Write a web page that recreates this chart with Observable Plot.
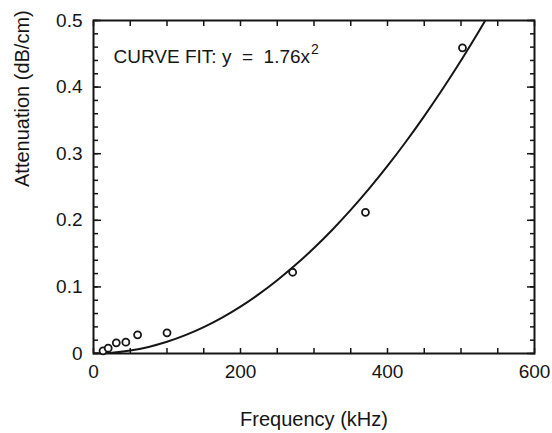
<!DOCTYPE html>
<html><head><meta charset="utf-8">
<script src="https://cdn.jsdelivr.net/npm/d3@7"></script>
<script src="https://cdn.jsdelivr.net/npm/@observablehq/plot@0.6"></script>
<style>
body{margin:0;background:#fff;}
#chart svg{display:block;}
</style></head><body><div id="chart"></div>
<script>
// Measured points
const freqKHz = [13, 20, 31, 44, 60, 100, 271, 370, 502];
const attenDB = [0.004, 0.008, 0.016, 0.017, 0.028, 0.031, 0.122, 0.212, 0.459];

// Curve fit y = 1.76x^2 (x in MHz)
const fitFreq = [0, 25, 50, 75, 100, 125, 150, 175, 200, 225, 250, 275, 300, 325, 350, 375, 400, 425, 450, 475, 500, 525, 533];
const fitAtten = [0, 0.0011, 0.0044, 0.0099, 0.0176, 0.0275, 0.0396, 0.0539, 0.0704, 0.0891, 0.11, 0.1331, 0.1584, 0.1859, 0.2156, 0.2475, 0.2816, 0.3179, 0.3564, 0.3971, 0.44, 0.4851, 0.5];

const xTickValues = [0, 200, 400, 600];
const xTickLabels = ["0", "200", "400", "600"];
const xMinorTicks = [0, 50, 100, 150, 200, 250, 300, 350, 400, 450, 500, 550, 600];
const yTickValues = [0, 0.1, 0.2, 0.3, 0.4, 0.5];
const yTickLabels = ["0", "0.1", "0.2", "0.3", "0.4", "0.5"];
const yMinorTicks = [0, 0.02, 0.04, 0.06, 0.08, 0.1, 0.12, 0.14, 0.16, 0.18, 0.2, 0.22, 0.24, 0.26, 0.28, 0.3, 0.32, 0.34, 0.36, 0.38, 0.4, 0.42, 0.44, 0.46, 0.48, 0.5];

const xLabel = "Frequency (kHz)";
const yLabel = "Attenuation (dB/cm)";
const fitLabel = "CURVE FIT: y  =  1.76x";
const fitSup = "2";

const points = freqKHz.map((f, i) => ({f, a: attenDB[i]}));
const fit = fitFreq.map((f, i) => ({f, a: fitAtten[i]}));

const ink = "#151515";
const font = "'Liberation Sans', Arial, Helvetica, sans-serif";
const fitSize = 19;

// measure the fit label to place the superscript after it
const ctx = document.createElement("canvas").getContext("2d");
ctx.font = `${fitSize}px ${font}`;
const fitWidth = ctx.measureText(fitLabel).width;

const minor = 5, major = 8;
const chart = Plot.plot({
  width: 552, height: 433,
  marginLeft: 93, marginRight: 18, marginTop: 20, marginBottom: 80,
  style: {fontFamily: font, fontSize: "19px", color: ink, background: "#fff", overflow: "visible"},
  x: {domain: [0, 600]},
  y: {domain: [0, 0.5]},
  marks: [
    // inward ticks on all four sides (shifted inside by their length)
    Plot.axisX({ticks: xMinorTicks, tickSize: minor, dy: -minor, tickFormat: () => "", label: null, stroke: ink, strokeWidth: 1.5}),
    Plot.axisX({anchor: "top", ticks: xMinorTicks, tickSize: minor, dy: minor, tickFormat: () => "", label: null, stroke: ink, strokeWidth: 1.5}),
    Plot.axisY({ticks: yMinorTicks, tickSize: minor, dx: minor, tickFormat: () => "", label: null, stroke: ink, strokeWidth: 1.5}),
    Plot.axisY({anchor: "right", ticks: yMinorTicks, tickSize: minor, dx: -minor, tickFormat: () => "", label: null, stroke: ink, strokeWidth: 1.5}),
    Plot.axisY({ticks: yTickValues, tickSize: major, dx: major, tickFormat: () => "", label: null, stroke: ink, strokeWidth: 1.5}),
    Plot.axisY({anchor: "right", ticks: yTickValues, tickSize: major, dx: -major, tickFormat: () => "", label: null, stroke: ink, strokeWidth: 1.5}),
    // tick labels
    Plot.axisX({ticks: xTickValues, tickSize: 0, tickPadding: 11, tickFormat: (d) => xTickLabels[xTickValues.indexOf(d)], label: null, fill: ink, fontSize: 19}),
    Plot.axisY({ticks: yTickValues, tickSize: 0, tickPadding: 11, tickFormat: (d) => yTickLabels[yTickValues.indexOf(d)], label: null, fill: ink, fontSize: 19}),
    Plot.frame({stroke: ink, strokeWidth: 2}),
    Plot.line(fit, {x: "f", y: "a", curve: "natural", stroke: ink, strokeWidth: 2, clip: true}),
    Plot.dot(points, {x: "f", y: "a", r: 3.5, stroke: ink, strokeWidth: 1.8, fill: "white"}),
    Plot.text([fitLabel], {text: d => d, frameAnchor: "top-left", dx: 20, dy: 36, textAnchor: "start", lineAnchor: "middle", fontSize: fitSize, fill: ink}),
    Plot.text([fitSup], {text: d => d, frameAnchor: "top-left", dx: 20 + fitWidth + 1, dy: 29, textAnchor: "start", lineAnchor: "middle", fontSize: 14, fill: ink}),
    Plot.text([xLabel], {text: d => d, frameAnchor: "bottom", dy: 66, lineAnchor: "middle", fontSize: 20, fill: ink}),
    Plot.text([yLabel], {text: d => d, frameAnchor: "left", dx: -71, rotate: -90, lineAnchor: "middle", fontSize: 20, fill: ink})
  ]
});
document.getElementById("chart").appendChild(chart);
</script></body></html>
